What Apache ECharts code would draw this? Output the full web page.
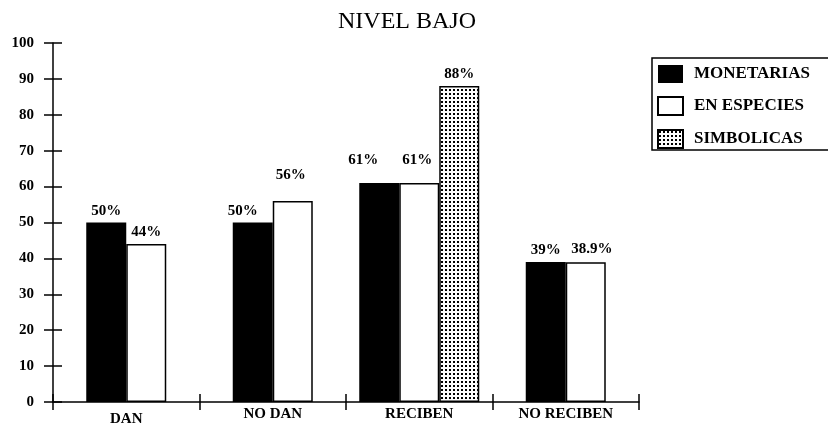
<!DOCTYPE html>
<html>
<head>
<meta charset="utf-8">
<script src="https://cdn.jsdelivr.net/npm/echarts@6/dist/echarts.min.js"></script>
<style>
  html, body { margin: 0; padding: 0; background: #fff; }
  #chart { width: 828px; height: 423px; }
</style>
</head>
<body>
<div id="chart"></div>
<script>
// Ayudas por nivel: porcentaje de hogares (nivel bajo)
const categorias = ['DAN', 'NO DAN', 'RECIBEN', 'NO RECIBEN'];
const monetarias = [50, 50, 61, 39];
const enEspecies = [44, 56, 61, 38.9];
const simbolicas = [null, null, 88, null];
const ticksY = [0, 10, 20, 30, 40, 50, 60, 70, 80, 90, 100];

const FONT = '"Liberation Serif", "DejaVu Serif", serif';

// Dotted fill for the symbolic-aid bars
function dotPattern() {
  const c = document.createElement('canvas');
  c.width = 4; c.height = 4;
  const g = c.getContext('2d');
  g.fillStyle = '#fff';
  g.fillRect(0, 0, 4, 4);
  g.fillStyle = '#000';
  g.fillRect(1, 1, 2, 2);
  return c;
}

const estilos = {
  'MONETARIAS': { color: '#000', borderColor: '#000', borderWidth: 0 },
  'EN ESPECIES': { color: '#fff', borderColor: '#000', borderWidth: 1.5 },
  'SIMBOLICAS': { color: { image: dotPattern(), repeat: 'repeat' }, borderColor: '#000', borderWidth: 1.5 }
};

// Per-bar nudges of the value labels [dx, dy], by series and category
const ajusteEtiquetas = {
  'MONETARIAS': { 'NO DAN': [-10, 0], 'RECIBEN': [-16, -11] },
  'EN ESPECIES': { 'NO DAN': [-2, -14], 'RECIBEN': [-2, -11], 'NO RECIBEN': [6, -2] },
  'SIMBOLICAS': {}
};

// Categories with three bars get their own bar layout so that every group stays centred
const tresBarras = simbolicas.map(v => v !== null);
const soloEn = (arr, usar) => arr.map((v, i) => (usar(i) ? v : null));

const etiquetaBase = {
  show: true,
  position: 'top',
  distance: 4,
  fontFamily: FONT,
  fontWeight: 'bold',
  fontSize: 15,
  color: '#000',
  formatter: p => p.value + '%'
};

function serie(nombre, valores, eje) {
  const ajustes = ajusteEtiquetas[nombre];
  return {
    name: nombre,
    type: 'bar',
    xAxisIndex: eje,
    yAxisIndex: 0,
    barWidth: 40,
    barGap: '0%',
    data: valores.map((v, i) => {
      if (v === null) return null;
      const off = ajustes[categorias[i]];
      return off ? { value: v, label: { offset: off } } : v;
    }),
    itemStyle: estilos[nombre],
    label: etiquetaBase,
    silent: true
  };
}

const series = [
  serie('MONETARIAS', soloEn(monetarias, i => !tresBarras[i]), 0),
  serie('EN ESPECIES', soloEn(enEspecies, i => !tresBarras[i]), 0),
  serie('MONETARIAS', soloEn(monetarias, i => tresBarras[i]), 1),
  serie('EN ESPECIES', soloEn(enEspecies, i => tresBarras[i]), 1),
  serie('SIMBOLICAS', soloEn(simbolicas, i => tresBarras[i]), 1)
];

const ejeY = (conEtiquetas) => ({
  type: 'value',
  position: 'left',
  min: ticksY[0],
  max: ticksY[ticksY.length - 1],
  interval: ticksY[1] - ticksY[0],
  axisLine: { show: conEtiquetas, lineStyle: { color: '#000', width: 1.5 } },
  axisTick: { show: true, inside: !conEtiquetas, length: 9, lineStyle: { color: '#000', width: 1.5 } },
  axisLabel: {
    show: conEtiquetas, margin: 19, color: '#000',
    fontFamily: FONT, fontWeight: 'bold', fontSize: 15
  },
  splitLine: { show: false }
});

const ejeX = (conEtiquetas) => ({
  type: 'category',
  position: 'bottom',
  data: categorias,
  axisLine: { show: conEtiquetas, lineStyle: { color: '#000', width: 1.5 } },
  axisTick: { show: true, inside: !conEtiquetas, length: 8, lineStyle: { color: '#000', width: 1.5 } },
  axisLabel: {
    show: conEtiquetas, margin: 5, color: '#000',
    fontFamily: FONT, fontWeight: 'bold', fontSize: 15,
    formatter: (v, i) => (i === 0 ? '{bajo|' + v + '}' : v),
    rich: { bajo: { fontFamily: FONT, fontWeight: 'bold', fontSize: 15, color: '#000', padding: [5, 0, 0, 0] } }
  },
  splitLine: { show: false }
});

const chart = echarts.init(document.getElementById('chart'), null, { renderer: 'canvas' });
chart.setOption({
  backgroundColor: '#fff',
  animation: false,
  title: {
    text: 'NIVEL BAJO',
    left: 338,
    top: 10,
    padding: 0,
    textStyle: { fontFamily: FONT, fontWeight: 'normal', fontSize: 24, color: '#000' }
  },
  legend: {
    data: ['MONETARIAS', 'EN ESPECIES', 'SIMBOLICAS'],
    orient: 'vertical',
    left: 652,
    top: 58,
    padding: [7, 60, 1, 5],
    itemWidth: 25,
    itemHeight: 18,
    itemGap: 13,
    icon: 'rect',
    borderColor: '#000',
    borderWidth: 1.5,
    selectedMode: false,
    textStyle: { fontFamily: FONT, fontWeight: 'bold', fontSize: 17, color: '#000', padding: [0, 0, 0, 6] }
  },
  grid: { left: 53, right: 189, top: 43, bottom: 21, containLabel: false, outerBoundsMode: 'none' },
  xAxis: [ejeX(true), ejeX(false)],
  yAxis: [ejeY(true), ejeY(false)],
  series: series
});
</script>
</body>
</html>
